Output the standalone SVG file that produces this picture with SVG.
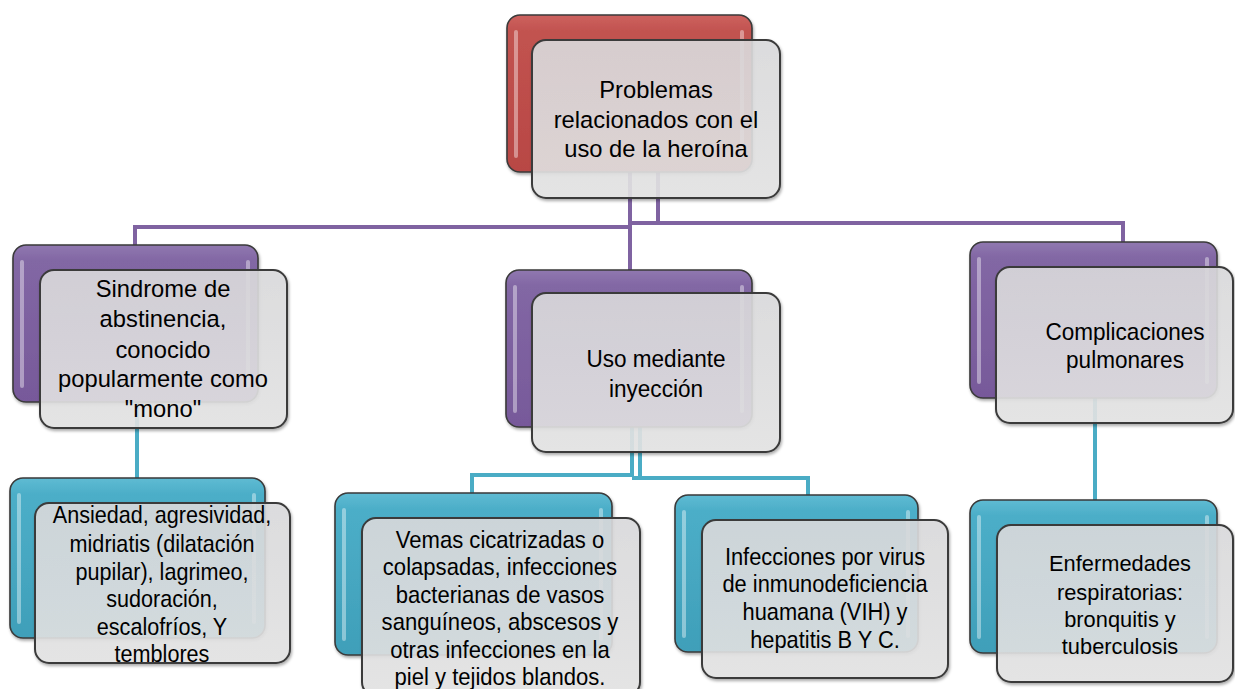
<svg xmlns="http://www.w3.org/2000/svg" width="1235" height="689" viewBox="0 0 1235 689">
<defs>
<linearGradient id="gRed" x1="0" y1="0" x2="0" y2="1"><stop offset="0" stop-color="#cd625f"/><stop offset="0.1" stop-color="#c25350"/><stop offset="1" stop-color="#b84744"/></linearGradient>
<linearGradient id="gPur" x1="0" y1="0" x2="0" y2="1"><stop offset="0" stop-color="#9078b0"/><stop offset="0.1" stop-color="#8267a4"/><stop offset="1" stop-color="#77599a"/></linearGradient>
<linearGradient id="gTeal" x1="0" y1="0" x2="0" y2="1"><stop offset="0" stop-color="#5fbbd3"/><stop offset="0.1" stop-color="#4caec8"/><stop offset="1" stop-color="#3f9fb9"/></linearGradient>
<linearGradient id="gFront" x1="0" y1="0" x2="0" y2="1"><stop offset="0" stop-color="#dcdcde"/><stop offset="1" stop-color="#e6e6e6"/></linearGradient>
<filter id="sh" x="-10%" y="-10%" width="125%" height="130%"><feDropShadow dx="1" dy="2" stdDeviation="1.6" flood-color="#000" flood-opacity="0.35"/></filter>
</defs>
<style>
.back{stroke:#3a3a3a;stroke-width:1.6;filter:url(#sh)}
.red{fill:url(#gRed)}
.pur{fill:url(#gPur)}
.teal{fill:url(#gTeal)}
.hl{fill:#ffffff;opacity:0.4}
.front{fill:url(#gFront);fill-opacity:0.88;stroke:#3a3a3a;stroke-width:2;filter:url(#sh)}
.t{font-family:"Liberation Sans",Arial,sans-serif;fill:#000;text-anchor:middle}
.cp{fill:none;stroke:#7f63a1;stroke-width:4}
.ct{fill:none;stroke:#4aacc5;stroke-width:4}
</style>
<rect width="1235" height="689" fill="#ffffff"/>
<g id="connectors">
<path class="cp" d="M630 172V270M658 172V223H630M135 245V227H630M658 223H1123V242"/>
<path class="ct" d="M137 402V478"/>
<path class="ct" d="M632 427V475H472V493M640 427V478H808V495M632 478H640"/>
<path class="ct" d="M1095 398V500"/>
</g>
<g id="n0">
<rect class="back red" x="507" y="15" width="245" height="157" rx="13"/>
<rect class="hl" x="514" y="30" width="4" height="128" rx="2"/>
<rect class="hl" x="740" y="30" width="4" height="128" rx="2"/>
<rect class="front" x="532" y="40" width="248" height="158" rx="14"/>
<text class="t" font-size="24.5" transform="translate(656 0) scale(0.97 1)"><tspan x="0" y="98">Problemas</tspan><tspan x="0" y="128">relacionados con el</tspan><tspan x="0" y="157">uso de la heroína</tspan></text>
</g>
<g id="n1">
<rect class="back pur" x="13" y="245" width="245" height="157" rx="13"/>
<rect class="hl" x="20" y="260" width="4" height="128" rx="2"/>
<rect class="hl" x="246" y="260" width="4" height="128" rx="2"/>
<rect class="front" x="40" y="270" width="247" height="158" rx="14"/>
<text class="t" font-size="24.5" transform="translate(163 0) scale(0.97 1)"><tspan x="0" y="297">Sindrome de</tspan><tspan x="0" y="327">abstinencia,</tspan><tspan x="0" y="358">conocido</tspan><tspan x="0" y="387">popularmente como</tspan><tspan x="0" y="417">"mono"</tspan></text>
</g>
<g id="n2">
<rect class="back pur" x="506" y="270" width="246" height="157" rx="13"/>
<rect class="hl" x="513" y="285" width="4" height="128" rx="2"/>
<rect class="hl" x="740" y="285" width="4" height="128" rx="2"/>
<rect class="front" x="532" y="293" width="248" height="159" rx="14"/>
<text class="t" font-size="24" transform="translate(656 0) scale(0.94 1)"><tspan x="0" y="367">Uso mediante</tspan><tspan x="0" y="397">inyección</tspan></text>
</g>
<g id="n3">
<rect class="back pur" x="970" y="242" width="247" height="156" rx="13"/>
<rect class="hl" x="977" y="257" width="4" height="127" rx="2"/>
<rect class="hl" x="1205" y="257" width="4" height="127" rx="2"/>
<rect class="front" x="996" y="267" width="237" height="156" rx="14"/>
<text class="t" font-size="24" transform="translate(1125 0) scale(0.94 1)"><tspan x="0" y="340">Complicaciones</tspan><tspan x="0" y="368">pulmonares</tspan></text>
</g>
<g id="n4">
<rect class="back teal" x="10" y="478" width="255" height="160" rx="13"/>
<rect class="hl" x="17" y="493" width="4" height="131" rx="2"/>
<rect class="hl" x="252" y="493" width="4" height="131" rx="2"/>
<rect class="front" x="35" y="503" width="255" height="160" rx="14"/>
<text class="t" font-size="24" transform="translate(162 0) scale(0.9 1)"><tspan x="0" y="523">Ansiedad, agresividad,</tspan><tspan x="0" y="552">midriatis (dilatación</tspan><tspan x="0" y="580">pupilar), lagrimeo,</tspan><tspan x="0" y="607">sudoración,</tspan><tspan x="0" y="635">escalofríos, Y</tspan><tspan x="0" y="662">temblores</tspan></text>
</g>
<g id="n5">
<rect class="back teal" x="335" y="493" width="277" height="162" rx="13"/>
<rect class="hl" x="342" y="508" width="4" height="133" rx="2"/>
<rect class="hl" x="599" y="508" width="4" height="133" rx="2"/>
<rect class="front" x="362" y="518" width="278" height="178" rx="14"/>
<text class="t" font-size="24" transform="translate(500 0) scale(0.92 1)"><tspan x="0" y="548">Vemas cicatrizadas o</tspan><tspan x="0" y="575">colapsadas, infecciones</tspan><tspan x="0" y="603">bacterianas de vasos</tspan><tspan x="0" y="630">sanguíneos, abscesos y</tspan><tspan x="0" y="658">otras infecciones en la</tspan><tspan x="0" y="685">piel y tejidos blandos.</tspan></text>
</g>
<g id="n6">
<rect class="back teal" x="675" y="495" width="243" height="157" rx="13"/>
<rect class="hl" x="682" y="510" width="4" height="128" rx="2"/>
<rect class="hl" x="906" y="510" width="4" height="128" rx="2"/>
<rect class="front" x="702" y="520" width="246" height="158" rx="14"/>
<text class="t" font-size="24" transform="translate(825 0) scale(0.91 1)"><tspan x="0" y="565">Infecciones por virus</tspan><tspan x="0" y="592">de inmunodeficiencia</tspan><tspan x="0" y="620">huamana (VIH) y</tspan><tspan x="0" y="648">hepatitis B Y C.</tspan></text>
</g>
<g id="n7">
<rect class="back teal" x="970" y="500" width="247" height="153" rx="13"/>
<rect class="hl" x="977" y="515" width="4" height="124" rx="2"/>
<rect class="hl" x="1205" y="515" width="4" height="124" rx="2"/>
<rect class="front" x="997" y="525" width="236" height="157" rx="14"/>
<text class="t" font-size="22.5" transform="translate(1120 0) scale(0.97 1)"><tspan x="0" y="571">Enfermedades</tspan><tspan x="0" y="600">respiratorias:</tspan><tspan x="0" y="627">bronquitis y</tspan><tspan x="0" y="654">tuberculosis</tspan></text>
</g>
</svg>
